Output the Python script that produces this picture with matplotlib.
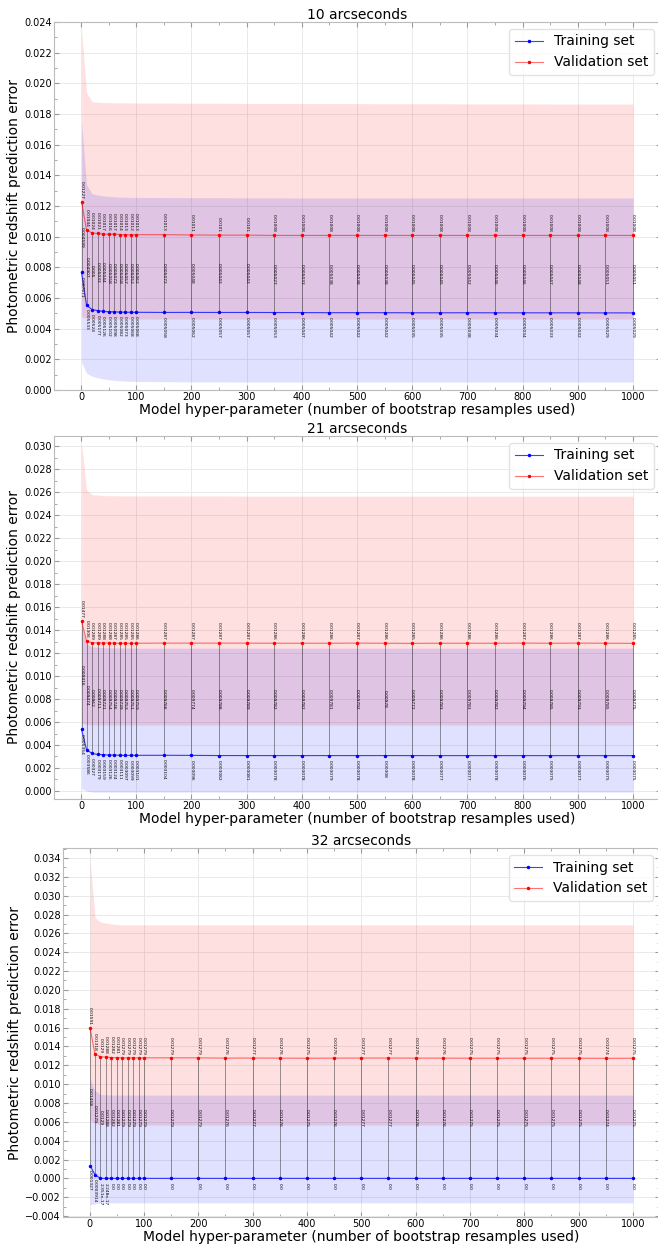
import numpy as np
import matplotlib
matplotlib.use('Agg')
import matplotlib.pyplot as plt
from matplotlib.ticker import MultipleLocator


# bootstrap resamples used (model hyper-parameter)
n_boot = [1, 10, 20, 30, 40, 50, 60, 70, 80, 90, 100, 150, 200, 250, 300, 350,
          400, 450, 500, 550, 600, 650, 700, 750, 800, 850, 900, 950, 1000]

# 10 arcseconds
val_10 = [0.01227, 0.01044, 0.01024, 0.01021, 0.01017, 0.01016, 0.01017, 0.01014,
          0.01013, 0.01012, 0.01013, 0.01013, 0.01011, 0.0101, 0.0101, 0.01008,
          0.01008, 0.01008, 0.01008, 0.01008, 0.01008, 0.01008, 0.01008, 0.01008,
          0.01008, 0.01008, 0.01008, 0.01008, 0.01008]
trn_10 = [0.007671, 0.005533, 0.00524, 0.005177, 0.005126, 0.005102, 0.005098,
          0.005082, 0.005073, 0.005068, 0.005068, 0.005058, 0.005062, 0.005057,
          0.005057, 0.005053, 0.005047, 0.005042, 0.005042, 0.005042, 0.005035,
          0.005035, 0.005038, 0.005034, 0.005034, 0.005033, 0.005032, 0.005029,
          0.005029]
val_10_hi = [0.0235, 0.0194, 0.0188, 0.01877, 0.01875, 0.01874, 0.01873, 0.01873,
             0.01872, 0.01872, 0.01872, 0.01871, 0.0187, 0.0187, 0.01869, 0.01869,
             0.01868, 0.01868, 0.01868, 0.01867, 0.01867, 0.01867, 0.01866, 0.01866,
             0.01866, 0.01865, 0.01865, 0.01865, 0.01865]
val_10_lo = [0.0048, 0.00468, 0.00465, 0.00464, 0.00464, 0.00463, 0.00463, 0.00463,
             0.00463, 0.00463, 0.00463, 0.00463, 0.00463, 0.00463, 0.00463, 0.00463,
             0.00463, 0.00463, 0.00463, 0.00463, 0.00463, 0.00463, 0.00463, 0.00463,
             0.00463, 0.00463, 0.00463, 0.00463, 0.00463]
trn_10_hi = [0.0175, 0.0134, 0.0128, 0.01272, 0.01266, 0.01262, 0.0126, 0.01258,
             0.01257, 0.01256, 0.01256, 0.01255, 0.01254, 0.01254, 0.01253, 0.01253,
             0.01252, 0.01252, 0.01252, 0.01252, 0.01252, 0.01252, 0.01252, 0.01252,
             0.01252, 0.01252, 0.01252, 0.01252, 0.01252]
trn_10_lo = [0.0018, 0.0011, 0.0009, 0.0008, 0.00072, 0.00067, 0.00063, 0.0006,
             0.00058, 0.00057, 0.00056, 0.00054, 0.00053, 0.00053, 0.00052, 0.00052,
             0.00052, 0.00052, 0.00052, 0.00052, 0.00052, 0.00052, 0.00052, 0.00052,
             0.00052, 0.00052, 0.00052, 0.00052, 0.00052]

# 21 arcseconds
val_21 = [0.01477, 0.01306, 0.01289, 0.01289, 0.01288, 0.01288, 0.01287, 0.01285,
          0.01285, 0.01285, 0.01286, 0.01287, 0.01287, 0.01287, 0.01287, 0.01286,
          0.01286, 0.01286, 0.01287, 0.01286, 0.01285, 0.01286, 0.01286, 0.01286,
          0.01287, 0.01286, 0.01287, 0.01286, 0.01285]
trn_21 = [0.005354, 0.003586, 0.00327, 0.003179, 0.003159, 0.003126, 0.003124,
          0.003111, 0.003097, 0.003099, 0.003101, 0.003104, 0.003096, 0.003082,
          0.003081, 0.003078, 0.003078, 0.003079, 0.003078, 0.00308, 0.003078,
          0.003077, 0.003077, 0.003078, 0.003076, 0.003075, 0.003077, 0.003075,
          0.003075]
val_21_hi = [0.0302, 0.0262, 0.0258, 0.02575, 0.02572, 0.0257, 0.0257, 0.02569,
             0.02569, 0.02569, 0.02568, 0.02568, 0.02568, 0.02568, 0.02567, 0.02567,
             0.02567, 0.02567, 0.02567, 0.02567, 0.02566, 0.02566, 0.02566, 0.02566,
             0.02566, 0.02566, 0.02566, 0.02566, 0.02566]
val_21_lo = [0.0059, 0.00578, 0.00575, 0.00574, 0.00574, 0.00574, 0.00574, 0.00574,
             0.00574, 0.00574, 0.00574, 0.00574, 0.00574, 0.00574, 0.00574, 0.00574,
             0.00574, 0.00574, 0.00574, 0.00574, 0.00574, 0.00574, 0.00574, 0.00574,
             0.00574, 0.00574, 0.00574, 0.00574, 0.00574]
trn_21_hi = [0.0142, 0.0128, 0.01255, 0.0125, 0.01248, 0.01246, 0.01245, 0.01244,
             0.01244, 0.01244, 0.01243, 0.01243, 0.01243, 0.01243, 0.01243, 0.01243,
             0.01243, 0.01243, 0.01243, 0.01243, 0.01243, 0.01243, 0.01243, 0.01243,
             0.01243, 0.01243, 0.01243, 0.01243, 0.01243]
trn_21_lo = [0.0002, 0.0, -0.0001, -0.0001, -0.0001, -0.0001, -0.0001, -0.0001,
             -0.0001, -0.0001, -0.0001, -0.0001, -0.0001, -0.0001, -0.0001, -0.0001,
             -0.0001, -0.0001, -0.0001, -0.0001, -0.0001, -0.0001, -0.0001, -0.0001,
             -0.0001, -0.0001, -0.0001, -0.0001, -0.0001]

# 32 arcseconds
val_32 = [0.01591, 0.01318, 0.0129, 0.01288, 0.01282, 0.01281, 0.01279, 0.01279,
          0.01279, 0.01279, 0.01279, 0.01279, 0.01279, 0.01276, 0.01277, 0.01276,
          0.01275, 0.01276, 0.01277, 0.01277, 0.01276, 0.01276, 0.01275, 0.01275,
          0.01275, 0.01275, 0.01275, 0.01274, 0.01275]
trn_32 = [0.001327, 0.0003914, 2.351e-17, 2.248e-17, 0.0, 0.0, 0.0, 0.0, 0.0, 0.0,
          0.0, 0.0, 0.0, 0.0, 0.0, 0.0, 0.0, 0.0, 0.0, 0.0, 0.0, 0.0, 0.0, 0.0, 0.0,
          0.0, 0.0, 0.0, 0.0]
val_32_hi = [0.0338, 0.0277, 0.0272, 0.0271, 0.027, 0.02695, 0.0269, 0.0269,
             0.0269, 0.0269, 0.0269, 0.0269, 0.0269, 0.0269, 0.0269, 0.0269,
             0.0269, 0.0269, 0.0269, 0.0269, 0.0269, 0.0269, 0.0269, 0.0269,
             0.0269, 0.0269, 0.0269, 0.0269, 0.0269]
val_32_lo = [0.0062, 0.0058, 0.00572, 0.0057, 0.00568, 0.00567, 0.00566, 0.00566,
             0.00566, 0.00566, 0.00566, 0.00566, 0.00566, 0.00566, 0.00566, 0.00566,
             0.00566, 0.00566, 0.00566, 0.00566, 0.00566, 0.00566, 0.00566, 0.00566,
             0.00566, 0.00566, 0.00566, 0.00566, 0.00566]
trn_32_hi = [0.0105, 0.0093, 0.0089, 0.00886, 0.00885, 0.00884, 0.00884, 0.00884,
             0.00884, 0.00884, 0.00884, 0.00884, 0.00884, 0.00884, 0.00884, 0.00884,
             0.00884, 0.00884, 0.00884, 0.00884, 0.00884, 0.00884, 0.00884, 0.00884,
             0.00884, 0.00884, 0.00884, 0.00884, 0.00884]
trn_32_lo = [-0.0028, -0.0027, -0.0026, -0.0026, -0.0026, -0.0026, -0.0026, -0.0026,
             -0.0026, -0.0026, -0.0026, -0.0026, -0.0026, -0.0026, -0.0026, -0.0026,
             -0.0026, -0.0026, -0.0026, -0.0026, -0.0026, -0.0026, -0.0026, -0.0026,
             -0.0026, -0.0026, -0.0026, -0.0026, -0.0026]


def fmt(v):
    return '0.0' if v == 0 else '%.4g' % v


panels = [
    ('10 arcseconds', val_10, trn_10, val_10_lo, val_10_hi, trn_10_lo, trn_10_hi,
     (0.0, 0.024), [54, 22, 660.6, 390]),
    ('21 arcseconds', val_21, trn_21, val_21_lo, val_21_hi, trn_21_lo, trn_21_hi,
     (-0.0007, 0.0309), [54, 436, 660.6, 799]),
    ('32 arcseconds', val_32, trn_32, val_32_lo, val_32_hi, trn_32_lo, trn_32_hi,
     (-0.0041, 0.03506), [63, 848, 660.1, 1217]),
]

W, H = 658, 1244
fig = plt.figure(figsize=(W / 100, H / 100), dpi=100)

for title, val, trn, vlo, vhi, tlo, thi, ylim, box in panels:
    l, t, r, b = box
    ax = fig.add_axes([l / W, 1 - b / H, (r - l) / W, (b - t) / H])

    x = np.array(n_boot)
    val = np.array(val)
    trn = np.array(trn)

    # spread of the errors
    ax.fill_between(x, vlo, vhi, color='r', alpha=0.12, lw=0)
    ax.fill_between(x, tlo, thi, color='b', alpha=0.12, lw=0)

    # gap between validation and training error
    ax.vlines(x, trn, val, colors='k', lw=0.6, alpha=0.45)

    ax.plot(x, trn, '.-', color=(0, 0, 1, 0.75), mfc='b', mec='b', ms=3, lw=0.8,
            label='Training set')
    ax.plot(x, val, '.-', color=(1, 0, 0, 0.55), mfc='r', mec='r', ms=3, lw=0.8,
            label='Validation set')

    for xi, v, tr in zip(x, val, trn):
        ax.annotate(fmt(v), (xi, v), xytext=(0, 2.5), textcoords='offset points',
                    rotation=270, ha='center', va='bottom', fontsize=3.2)
        ax.annotate(fmt(tr), (xi, tr), xytext=(0, -3), textcoords='offset points',
                    rotation=270, ha='center', va='top', fontsize=3.2)
        ax.annotate(fmt(v - tr), (xi, (v + tr) / 2), rotation=270,
                    ha='center', va='center', fontsize=3.2)

    ax.set_xlim(-48.95, 1049.95)
    ax.set_ylim(*ylim)
    ax.xaxis.set_major_locator(MultipleLocator(100))
    ax.xaxis.set_minor_locator(MultipleLocator(50))
    ax.yaxis.set_major_locator(MultipleLocator(0.002))
    ax.yaxis.set_minor_locator(MultipleLocator(0.001))
    ax.tick_params(which='both', direction='in', top=True, right=True,
                   colors='#999999', labelcolor='k', labelsize=7, pad=1.5)
    ax.tick_params(which='major', length=3.5)
    ax.tick_params(which='minor', length=2)
    for s in ax.spines.values():
        s.set_color('#bbbbbb')
    ax.grid(True, which='major', color='#e6e6e6', lw=0.6)
    ax.set_axisbelow(True)

    ax.set_title(title, fontsize=10, pad=2)
    ax.set_xlabel('Model hyper-parameter (number of bootstrap resamples used)',
                  fontsize=10, labelpad=1)
    ax.set_ylabel('Photometric redshift prediction error', fontsize=10, labelpad=2)
    leg = ax.legend(loc='upper right', fontsize=10, fancybox=True, framealpha=0.8)
    leg.get_frame().set_edgecolor('#dddddd')

fig.savefig('out.png', dpi=100)
